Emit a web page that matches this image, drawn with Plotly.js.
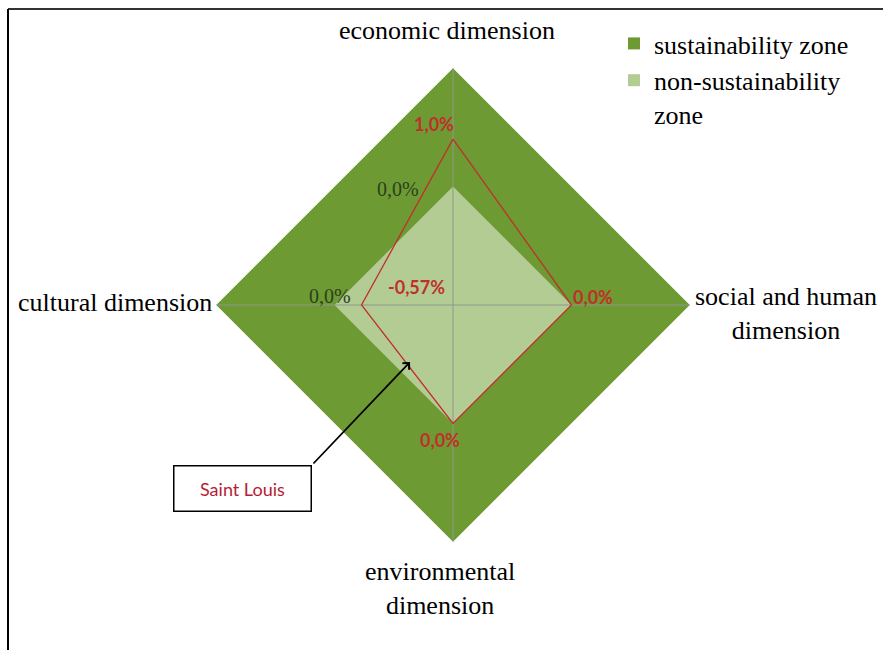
<!DOCTYPE html>
<html>
<head>
<meta charset="utf-8">
<script src="https://cdn.plot.ly/plotly-3.0.1.min.js"></script>
<style>html,body{margin:0;padding:0;background:#fff;}#chart{width:883px;height:650px;}</style>
</head>
<body>
<div id="chart"></div>
<script>
// Dimensions (clockwise from top)
const dimensions = ['economic dimension', 'social and human dimension', 'environmental dimension', 'cultural dimension'];
// Zone boundaries (radial axis values)
const sustainabilityZone = [2.5, 2.5, 2.5, 2.5];
const nonSustainabilityZone = [0, 0, 0, 0];
const nonSustainabilityLabels = ['0,0%', '', '', '0,0%'];
// Saint Louis values (%)
const saintLouis = [1.0, 0.0, 0.0, -0.57];
const saintLouisLabels = ['1,0%', '0,0%', '0,0%', '-0,57%'];
const radialRange = [-2.5, 2.5];

const serif = 'Liberation Serif, Times New Roman, serif';
const sans = 'Lato, Open Sans, sans-serif';
const close = a => a.concat([a[0]]);

const traces = [
  {
    type: 'scatterpolar', r: sustainabilityZone, theta: dimensions,
    mode: 'none', fill: 'toself', fillcolor: '#6e9a34',
    showlegend: false, hoverinfo: 'skip'
  },
  {
    type: 'scatterpolar', r: nonSustainabilityZone, theta: dimensions,
    mode: 'none', fill: 'toself', fillcolor: '#b3cc94',
    showlegend: false, hoverinfo: 'skip'
  },
  {
    // axis cross: vertical spokes
    type: 'scatterpolar',
    r: [radialRange[1], radialRange[0], radialRange[1]],
    theta: [dimensions[0], dimensions[0], dimensions[2]],
    mode: 'lines', line: {color: '#8d9889', width: 1},
    showlegend: false, hoverinfo: 'skip'
  },
  {
    // axis cross: horizontal spokes
    type: 'scatterpolar',
    r: [radialRange[1], radialRange[0], radialRange[1]],
    theta: [dimensions[1], dimensions[1], dimensions[3]],
    mode: 'lines', line: {color: '#8d9889', width: 1},
    showlegend: false, hoverinfo: 'skip'
  },
  {
    type: 'scatterpolar', r: close(saintLouis), theta: close(dimensions),
    mode: 'lines', line: {color: '#c0302a', width: 1.3},
    name: 'Saint Louis', showlegend: false
  },
  {
    type: 'scatterpolar', r: [null], theta: [dimensions[0]], mode: 'markers',
    marker: {symbol: 'square', size: 12, color: '#6e9a34'},
    name: 'sustainability zone'
  },
  {
    type: 'scatterpolar', r: [null], theta: [dimensions[0]], mode: 'markers',
    marker: {symbol: 'square', size: 12, color: '#b3cc94'},
    name: 'non-sustainability<br>zone'
  }
];

// plot area in pixels: left 216, top 68, size 474 (polar fills it)
const L = 216, T = 68, S = 474;
const px = x => (x - L) / S;
const py = y => (T + S - y) / S;
const lab = (text, x, y, xanchor) => ({
  text: text, x: px(x), y: py(y), xref: 'paper', yref: 'paper',
  xanchor: xanchor || 'center', yanchor: 'middle', showarrow: false, align: 'center',
  font: {family: serif, size: 26, color: '#000'}
});

// data-label position of a polar point (paper coords), from the radial range
const angles = [90, 0, -90, 180]; // clockwise from top
function polarToPaper(v, i) {
  const frac = (v - radialRange[0]) / (radialRange[1] - radialRange[0]);
  const a = angles[i] * Math.PI / 180;
  return {x: 0.5 + 0.5 * frac * Math.cos(a), y: 0.5 + 0.5 * frac * Math.sin(a)};
}
// label offsets (pixels) per point
const redOffsets = [
  {xanchor: 'center', xshift: -19, yshift: 15},
  {xanchor: 'left', xshift: -1, yshift: 8},
  {xanchor: 'center', xshift: -13, yshift: -16},
  {xanchor: 'left', xshift: 24, yshift: 18}
];
const greenOffsets = [
  {xanchor: 'right', xshift: -32, yshift: -2},
  null, null,
  {xanchor: 'center', xshift: -5, yshift: 9}
];
const dataLabels = [];
saintLouis.forEach((v, i) => {
  const p = polarToPaper(v, i), o = redOffsets[i];
  dataLabels.push({text: saintLouisLabels[i], x: p.x, y: p.y, xref: 'paper', yref: 'paper',
    xanchor: o.xanchor, yanchor: 'middle', xshift: o.xshift, yshift: o.yshift, showarrow: false,
    font: {family: sans, size: 18, color: '#c0302a', weight: 'bold'}});
});
nonSustainabilityZone.forEach((v, i) => {
  if (!nonSustainabilityLabels[i]) return;
  const p = polarToPaper(v, i), o = greenOffsets[i];
  dataLabels.push({text: nonSustainabilityLabels[i], x: p.x, y: p.y, xref: 'paper', yref: 'paper',
    xanchor: o.xanchor, yanchor: 'middle', xshift: o.xshift, yshift: o.yshift, showarrow: false,
    font: {family: serif, size: 20, color: '#2b401c'}});
});

const layout = {
  width: 883, height: 650,
  margin: {l: L, r: 883 - L - S, t: T, b: 650 - T - S},
  paper_bgcolor: '#ffffff',
  showlegend: true,
  legend: {
    x: px(614), y: py(20), xanchor: 'left', yanchor: 'top',
    font: {family: serif, size: 26, color: '#000'},
    bgcolor: 'rgba(0,0,0,0)', valign: 'top', tracegroupgap: 0
  },
  polar: {
    domain: {x: [0, 1], y: [0, 1]},
    bgcolor: 'rgba(0,0,0,0)',
    gridshape: 'linear',
    radialaxis: {range: radialRange, visible: false},
    angularaxis: {direction: 'clockwise', rotation: 90, showline: false, showgrid: false,
                  showticklabels: false, ticks: ''}
  },
  annotations: [
    lab('economic dimension', 447, 30),
    lab('cultural dimension', 214, 302, 'right'),
    lab('social and human<br>dimension', 786, 313),
    lab('environmental<br>dimension', 440, 588),
    {text: 'Saint Louis', x: px(242), y: py(488), xref: 'paper', yref: 'paper',
     xanchor: 'center', yanchor: 'middle',
     showarrow: false, width: 134, height: 42, bgcolor: '#ffffff',
     bordercolor: '#000', borderwidth: 1.5, borderpad: 1,
     font: {family: sans, size: 18, color: '#b51d33'}},
    {text: '', x: px(410), y: py(362), xref: 'paper', yref: 'paper',
     showarrow: true, ax: 312 - 410, ay: 465 - 362, arrowhead: 4, arrowsize: 1,
     arrowwidth: 1.8, arrowcolor: '#000'}
  ].concat(dataLabels),
  shapes: [
    {type: 'line', xref: 'paper', yref: 'paper', x0: px(8), x1: px(883), y0: py(9), y1: py(9),
     line: {color: '#333', width: 2}},
    {type: 'line', xref: 'paper', yref: 'paper', x0: px(8), x1: px(8), y0: py(9), y1: py(650),
     line: {color: '#000', width: 2}}
  ]
};

Plotly.newPlot('chart', traces, layout, {displayModeBar: false, staticPlot: true});
</script>
</body>
</html>
